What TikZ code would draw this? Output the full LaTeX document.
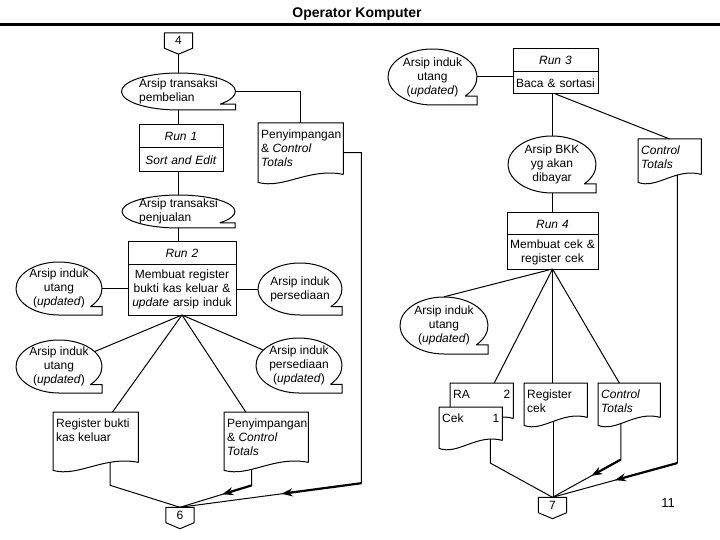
\documentclass[tikz,border=0pt]{standalone}
\usepackage{fontspec}
\setmainfont{Liberation Sans}
\usetikzlibrary{shapes.geometric, arrows.meta, positioning, calc}
\newcommand{\basefont}{\fontsize{12bp}{14bp}\selectfont}
\tikzstyle{runhead} = [rectangle, draw=black, line width=1bp, inner sep=0pt, outer sep=0pt, align=center, font=\basefont\itshape]
\tikzstyle{runbody} = [rectangle, draw=black, line width=1bp, inner sep=0pt, outer sep=0pt, align=center]
\tikzstyle{tape} = [ellipse, inner sep=-2bp, align=center]
\tikzstyle{doc} = [rectangle, anchor=north west, inner xsep=3bp, inner ysep=0pt, fill=white]
\tikzstyle{pagebox} = [rectangle, inner sep=0pt, minimum width=28bp, minimum height=15bp]
\tikzstyle{link} = [draw=black, line width=1bp]
\tikzstyle{arrow} = [line width=2.2bp,->,>={Stealth[length=11bp,width=8bp]}]

% tape file: ellipse with tail at lower right
\newcommand{\tapefile}[6][]{%
  \node (#2) [tape, #1, minimum width=2*#4bp, minimum height=2*#5bp] at (#3) {#6};
  \draw[link] (#2.center) ++(43:#4 and #5) coordinate (#2-t) arc[start angle=43, end angle=-270, x radius=#4, y radius=#5] -- ++(#4,0) |- (#2-t);
}
% document with wavy bottom
\newcommand{\docfile}[6]{%
  \node (#1) [doc] at (#2) {\parbox[t][#4bp][t]{\dimexpr#3bp-6bp\relax}{\vspace*{7bp}\raggedright #6}};
  \draw[link] ([yshift=8bp]#1.south east) -- (#1.north east) -- (#1.north west) -- (#1.south west) .. controls ([shift={(0.3*#3bp,-7bp)}]#1.south west) and ([shift={(0.6*#3bp,15bp)}]#1.south west) .. ([yshift=8bp]#1.south east) coordinate[pos=#5] (#1-out);
}
% off-page connector
\newcommand{\pageconn}[3]{%
  \node (#1) [pagebox] at (#2) {#3};
  \draw[link] (#1.south west) -- (#1.north west) -- (#1.north east) -- (#1.south east) -- ([yshift=-6bp]#1.south) coordinate (#1-tip) -- cycle;
}

\begin{document}
\begin{tikzpicture}[x=1bp, y=-1bp, font=\basefont]
\useasboundingbox (0,0) rectangle (720,540);
\node (title) at (357,14) {\fontsize{14bp}{16bp}\selectfont\bfseries Operator Komputer};
\draw[line width=3bp] (0,25) -- (720,25);

% run 1 and run 2
\pageconn{con4}{178.5,40.5}{4}
\tapefile[align=left]{pemb}{178.5,91.5}{57}{18.5}{Arsip transaksi\\pembelian}
\node (run1) [runhead, text width=84bp, minimum height=23bp] at (181,136.5) {Run 1};
\node (sort1) [runbody, text width=84bp, minimum height=24bp, below=0pt of run1] {\textit{Sort and Edit}};
\docfile{pen1}{258,123}{85}{59}{0.5}{Penyimpangan\\\& \textit{Control}\\\textit{Totals}}
\tapefile[align=left]{penj}{178.5,211.5}{56.5}{16.5}{Arsip transaksi\\penjualan}
\node (run2) [runhead, text width=108bp, minimum height=22bp] at (182,253) {Run 2};
\node (mreg) [runbody, text width=108bp, minimum height=51bp, below=0pt of run2] {Membuat register\\bukti kas keluar \&\\\textit{update} arsip induk};
\tapefile{utang1}{59,288.5}{43}{26.5}{Arsip induk\\utang\\(\textit{updated})}
\tapefile{sedia1}{300,289}{42}{26}{Arsip induk\\persediaan}
\tapefile{utang2}{59,366.5}{43}{26.5}{Arsip induk\\utang\\(\textit{updated})}
\tapefile{sedia2}{299,365.5}{43}{27.5}{Arsip induk\\persediaan\\(\textit{updated})}
\docfile{regb}{53,412}{85}{58}{0.705}{Register bukti\\kas keluar}
\docfile{pen2}{224,412}{84}{58}{0.36}{Penyimpangan\\\& \textit{Control}\\\textit{Totals}}
\pageconn{con6}{180,515}{6}

% run 3 and run 4
\tapefile{utang3}{432.5,77}{44.5}{28}{Arsip induk\\utang\\(\textit{updated})}
\node (run3) [runhead, text width=85bp, minimum height=23bp] at (555.5,60.5) {Run 3};
\node (baca) [runbody, text width=85bp, minimum height=22bp, below=0pt of run3] {Baca \& sortasi};
\tapefile{bkk}{552,164.5}{44}{28.5}{Arsip BKK\\yg akan\\dibayar}
\docfile{ctrl1}{638,139}{63}{43}{0.66}{\textit{Control}\\\textit{Totals}}
\node (run4) [runhead, text width=91bp, minimum height=22bp] at (552.5,224) {Run 4};
\node (mcek) [runbody, text width=91bp, minimum height=34bp, below=0pt of run4] {Membuat cek \&\\register cek};
\tapefile{utang4}{444,325.5}{44}{28.5}{Arsip induk\\utang\\(\textit{updated})}
\docfile{ra}{450,383}{63}{43}{0.5}{RA\hfill 2}
\docfile{cek}{439,407}{63}{41}{0.835}{Cek\hfill 1}
\docfile{regcek}{524,383}{63}{42}{0.5}{Register\\cek}
\docfile{ctrl2}{598,383}{62}{42}{0.4}{\textit{Control}\\\textit{Totals}}
\pageconn{con7}{552.5,505}{7}
\node (page) at (668,503) {\fontsize{13bp}{15bp}\selectfont 11};

% connectors left
\draw[link] (con4-tip) -- (pemb);
\draw[link] (pemb) -- (pemb |- run1.north);
\draw[link] (pemb |- sort1.south) -- (penj);
\draw[link] (penj) -- (penj |- run2.north);
\draw[link] (pemb) -| (pen1.north);
\draw[link] (pen1.east) -- ++(18,0) -- ++(0,330.5) coordinate (c1) -- (con6.north);
\draw[arrow] (c1) -- ($(c1)!0.44!(con6.north)$);
\draw[link] (utang1 -| mreg.west) -- (utang1);
\draw[link] (sedia1 -| mreg.east) -- (sedia1);
\draw[link] (mreg.south) -- (utang2);
\draw[link] (mreg.south) -- (sedia2);
\draw[link] (mreg.south) -- (regb.60);
\draw[link] (mreg.south) -- (pen2.125);
\draw[link] (regb-out) -- ++(0,23) -- (con6.north);
\draw[link] (pen2-out) -- ++(0,16) coordinate (c2) -- (con6.north);
\draw[arrow] (c2) -- ($(c2)!0.41!(con6.north)$);

% connectors right
\draw[link] (utang3) -- (utang3 -| baca.west);
\draw[link] (bkk.north |- baca.south) -- (bkk);
\draw[link] (baca.south) -- (ctrl1.north);
\draw[link] (bkk) -- (bkk |- run4.north);
\draw[link] (ctrl1-out) -- ++(0,288) coordinate (c3) -- (con7.north);
\draw[arrow] (c3) -- ($(c3)!0.5!(con7.north)$);
\draw[link] (mcek.south) -- (utang4.north);
\draw[link] (mcek.south) -- (ra.60);
\draw[link] (mcek.south) -- (mcek.south |- regcek.north);
\draw[link] (mcek.south) -- (ctrl2.115);
\draw[link] (cek-out) -- ++(0,24) -- (con7.north);
\draw[link] (regcek-out) -- (regcek-out |- con7.north);
\draw[link] (ctrl2-out) -- ++(0,36) coordinate (c4) -- (con7.north);
\draw[arrow] (c4) -- ($(c4)!0.43!(con7.north)$);
\end{tikzpicture}
\end{document}
